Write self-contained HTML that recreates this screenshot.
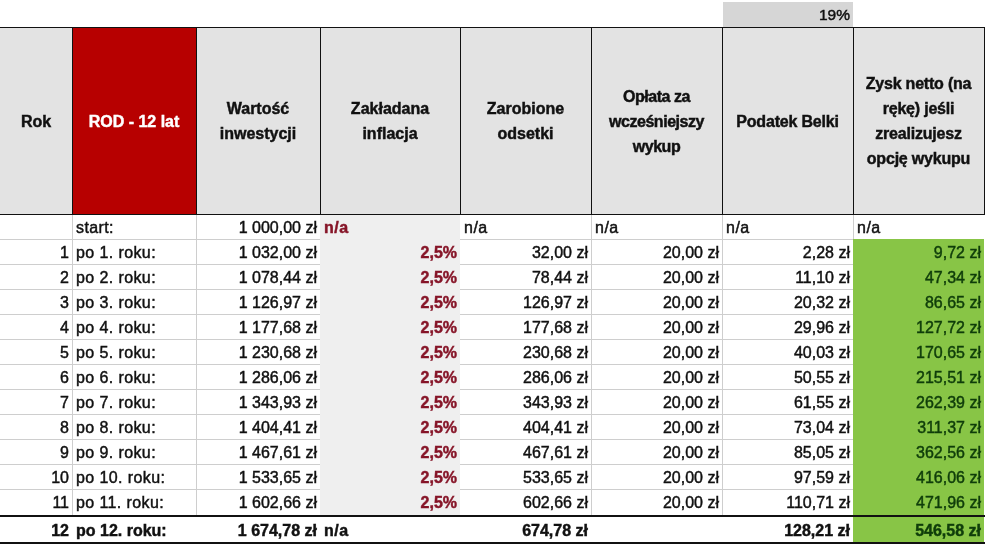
<!DOCTYPE html><html><head><meta charset="utf-8"><title>ROD</title><style>

html,body{margin:0;padding:0;background:#fff;}
body{width:989px;height:551px;position:relative;overflow:hidden;font-family:"Liberation Sans",sans-serif;color:#111;}
.a{position:absolute;box-sizing:border-box;}
.hd{white-space:nowrap;background:#e3e3e3;display:flex;align-items:center;justify-content:center;text-align:center;font-weight:bold;font-size:16px;line-height:25px;color:#111;-webkit-text-stroke:0.45px currentColor;}
.c{white-space:nowrap;font-size:16px;line-height:25px;height:25px;-webkit-text-stroke:0.45px currentColor;}
.r{text-align:right;}
.l{text-align:left;}
.b{font-weight:bold;}
.red{color:#861528;font-weight:bold;}
.gl{background:#cecece;}
.bl{background:#111;}

</style></head><body>
<div class="a" style="left:722.5px;top:2px;width:130.2px;height:25px;background:#d6d6d6;"></div>
<div class="a c r" style="left:722px;top:3px;width:128px;font-size:15.5px;line-height:24px;">19%</div>
<div class="a" style="left:0;top:27px;width:985px;height:188px;background:#e3e3e3;"></div>
<div class="a" style="left:72px;top:27px;width:125px;height:188px;background:#b70000;"></div>
<div class="a hd" style="left:0px;top:28px;width:72px;height:186px;background:transparent;"><span>Rok</span></div>
<div class="a hd" style="left:72px;top:28px;width:124px;height:186px;background:transparent;color:#fff;"><span>ROD - 12 lat</span></div>
<div class="a hd" style="left:196px;top:28px;width:124px;height:186px;background:transparent;"><span>Wartość<br>inwestycji</span></div>
<div class="a hd" style="left:320px;top:28px;width:140px;height:186px;background:transparent;"><span>Zakładana<br>inflacja</span></div>
<div class="a hd" style="left:460px;top:28px;width:131px;height:186px;background:transparent;"><span>Zarobione<br>odsetki</span></div>
<div class="a hd" style="left:591px;top:28px;width:131px;height:186px;background:transparent;letter-spacing:-0.45px;"><span>Opłata za<br>wcześniejszy<br>wykup</span></div>
<div class="a hd" style="left:722px;top:28px;width:131px;height:186px;background:transparent;letter-spacing:-0.2px;"><span>Podatek Belki</span></div>
<div class="a hd" style="left:853px;top:28px;width:131px;height:186px;background:transparent;letter-spacing:-0.2px;"><span>Zysk netto (na<br>rękę) jeśli<br>zrealizujesz<br>opcję wykupu</span></div>
<div class="a" style="left:320px;top:215px;width:140px;height:300px;background:#efefef;"></div>
<div class="a" style="left:853.4px;top:239px;width:130.6px;height:304px;background:#88c546;"></div>
<div class="a gl" style="left:0;top:239px;width:320px;height:1px;"></div>
<div class="a gl" style="left:460px;top:239px;width:393px;height:1px;"></div>
<div class="a gl" style="left:0;top:264px;width:320px;height:1px;"></div>
<div class="a gl" style="left:460px;top:264px;width:393px;height:1px;"></div>
<div class="a gl" style="left:0;top:289px;width:320px;height:1px;"></div>
<div class="a gl" style="left:460px;top:289px;width:393px;height:1px;"></div>
<div class="a gl" style="left:0;top:314px;width:320px;height:1px;"></div>
<div class="a gl" style="left:460px;top:314px;width:393px;height:1px;"></div>
<div class="a gl" style="left:0;top:339px;width:320px;height:1px;"></div>
<div class="a gl" style="left:460px;top:339px;width:393px;height:1px;"></div>
<div class="a gl" style="left:0;top:364px;width:320px;height:1px;"></div>
<div class="a gl" style="left:460px;top:364px;width:393px;height:1px;"></div>
<div class="a gl" style="left:0;top:389px;width:320px;height:1px;"></div>
<div class="a gl" style="left:460px;top:389px;width:393px;height:1px;"></div>
<div class="a gl" style="left:0;top:414px;width:320px;height:1px;"></div>
<div class="a gl" style="left:460px;top:414px;width:393px;height:1px;"></div>
<div class="a gl" style="left:0;top:439px;width:320px;height:1px;"></div>
<div class="a gl" style="left:460px;top:439px;width:393px;height:1px;"></div>
<div class="a gl" style="left:0;top:464px;width:320px;height:1px;"></div>
<div class="a gl" style="left:460px;top:464px;width:393px;height:1px;"></div>
<div class="a gl" style="left:0;top:489px;width:320px;height:1px;"></div>
<div class="a gl" style="left:460px;top:489px;width:393px;height:1px;"></div>
<div class="a gl" style="left:72px;top:215px;width:1px;height:300px;"></div>
<div class="a gl" style="left:196px;top:215px;width:1px;height:300px;"></div>
<div class="a gl" style="left:591px;top:215px;width:1px;height:300px;"></div>
<div class="a gl" style="left:722px;top:215px;width:1px;height:300px;"></div>
<div class="a gl" style="left:853px;top:215px;width:1px;height:24px;"></div>
<div class="a bl" style="left:0;top:27px;width:985px;height:1px;"></div>
<div class="a bl" style="left:0;top:214px;width:985px;height:1px;"></div>
<div class="a bl" style="left:72px;top:27px;width:1px;height:188px;"></div>
<div class="a bl" style="left:196px;top:27px;width:1px;height:188px;"></div>
<div class="a bl" style="left:320px;top:27px;width:1px;height:188px;"></div>
<div class="a bl" style="left:460px;top:27px;width:1px;height:188px;"></div>
<div class="a bl" style="left:591px;top:27px;width:1px;height:188px;"></div>
<div class="a bl" style="left:722px;top:27px;width:1px;height:188px;"></div>
<div class="a bl" style="left:853px;top:27px;width:1px;height:188px;"></div>
<div class="a bl" style="left:984px;top:27px;width:1px;height:188px;"></div>
<div class="a bl" style="left:0;top:515px;width:985px;height:2px;"></div>
<div class="a bl" style="left:0;top:542px;width:985px;height:2px;"></div>
<div class="a c l" style="left:76px;top:215px;width:120px;letter-spacing:0.4px;">start:</div>
<div class="a c r" style="left:196px;top:215px;width:121px;">1 000,00 zł</div>
<div class="a c l red" style="left:324px;top:215px;width:136px;letter-spacing:0.5px;">n/a</div>
<div class="a c l" style="left:464px;top:215px;width:127px;letter-spacing:0.5px;">n/a</div>
<div class="a c l" style="left:595px;top:215px;width:127px;letter-spacing:0.5px;">n/a</div>
<div class="a c l" style="left:726px;top:215px;width:127px;letter-spacing:0.5px;">n/a</div>
<div class="a c l" style="left:857px;top:215px;width:127px;letter-spacing:0.5px;">n/a</div>
<div class="a c r" style="left:0px;top:240px;width:69px;">1</div>
<div class="a c l" style="left:76px;top:240px;width:120px;letter-spacing:0.4px;">po 1. roku:</div>
<div class="a c r" style="left:196px;top:240px;width:121px;">1 032,00 zł</div>
<div class="a c r red" style="left:320px;top:240px;width:137px;">2,5%</div>
<div class="a c r" style="left:460px;top:240px;width:128px;">32,00 zł</div>
<div class="a c r" style="left:591px;top:240px;width:128px;">20,00 zł</div>
<div class="a c r" style="left:722px;top:240px;width:128px;">2,28 zł</div>
<div class="a c r" style="left:853px;top:240px;width:128px;color:#0f3d0a;">9,72 zł</div>
<div class="a c r" style="left:0px;top:265px;width:69px;">2</div>
<div class="a c l" style="left:76px;top:265px;width:120px;letter-spacing:0.4px;">po 2. roku:</div>
<div class="a c r" style="left:196px;top:265px;width:121px;">1 078,44 zł</div>
<div class="a c r red" style="left:320px;top:265px;width:137px;">2,5%</div>
<div class="a c r" style="left:460px;top:265px;width:128px;">78,44 zł</div>
<div class="a c r" style="left:591px;top:265px;width:128px;">20,00 zł</div>
<div class="a c r" style="left:722px;top:265px;width:128px;">11,10 zł</div>
<div class="a c r" style="left:853px;top:265px;width:128px;color:#0f3d0a;">47,34 zł</div>
<div class="a c r" style="left:0px;top:290px;width:69px;">3</div>
<div class="a c l" style="left:76px;top:290px;width:120px;letter-spacing:0.4px;">po 3. roku:</div>
<div class="a c r" style="left:196px;top:290px;width:121px;">1 126,97 zł</div>
<div class="a c r red" style="left:320px;top:290px;width:137px;">2,5%</div>
<div class="a c r" style="left:460px;top:290px;width:128px;">126,97 zł</div>
<div class="a c r" style="left:591px;top:290px;width:128px;">20,00 zł</div>
<div class="a c r" style="left:722px;top:290px;width:128px;">20,32 zł</div>
<div class="a c r" style="left:853px;top:290px;width:128px;color:#0f3d0a;">86,65 zł</div>
<div class="a c r" style="left:0px;top:315px;width:69px;">4</div>
<div class="a c l" style="left:76px;top:315px;width:120px;letter-spacing:0.4px;">po 4. roku:</div>
<div class="a c r" style="left:196px;top:315px;width:121px;">1 177,68 zł</div>
<div class="a c r red" style="left:320px;top:315px;width:137px;">2,5%</div>
<div class="a c r" style="left:460px;top:315px;width:128px;">177,68 zł</div>
<div class="a c r" style="left:591px;top:315px;width:128px;">20,00 zł</div>
<div class="a c r" style="left:722px;top:315px;width:128px;">29,96 zł</div>
<div class="a c r" style="left:853px;top:315px;width:128px;color:#0f3d0a;">127,72 zł</div>
<div class="a c r" style="left:0px;top:340px;width:69px;">5</div>
<div class="a c l" style="left:76px;top:340px;width:120px;letter-spacing:0.4px;">po 5. roku:</div>
<div class="a c r" style="left:196px;top:340px;width:121px;">1 230,68 zł</div>
<div class="a c r red" style="left:320px;top:340px;width:137px;">2,5%</div>
<div class="a c r" style="left:460px;top:340px;width:128px;">230,68 zł</div>
<div class="a c r" style="left:591px;top:340px;width:128px;">20,00 zł</div>
<div class="a c r" style="left:722px;top:340px;width:128px;">40,03 zł</div>
<div class="a c r" style="left:853px;top:340px;width:128px;color:#0f3d0a;">170,65 zł</div>
<div class="a c r" style="left:0px;top:365px;width:69px;">6</div>
<div class="a c l" style="left:76px;top:365px;width:120px;letter-spacing:0.4px;">po 6. roku:</div>
<div class="a c r" style="left:196px;top:365px;width:121px;">1 286,06 zł</div>
<div class="a c r red" style="left:320px;top:365px;width:137px;">2,5%</div>
<div class="a c r" style="left:460px;top:365px;width:128px;">286,06 zł</div>
<div class="a c r" style="left:591px;top:365px;width:128px;">20,00 zł</div>
<div class="a c r" style="left:722px;top:365px;width:128px;">50,55 zł</div>
<div class="a c r" style="left:853px;top:365px;width:128px;color:#0f3d0a;">215,51 zł</div>
<div class="a c r" style="left:0px;top:390px;width:69px;">7</div>
<div class="a c l" style="left:76px;top:390px;width:120px;letter-spacing:0.4px;">po 7. roku:</div>
<div class="a c r" style="left:196px;top:390px;width:121px;">1 343,93 zł</div>
<div class="a c r red" style="left:320px;top:390px;width:137px;">2,5%</div>
<div class="a c r" style="left:460px;top:390px;width:128px;">343,93 zł</div>
<div class="a c r" style="left:591px;top:390px;width:128px;">20,00 zł</div>
<div class="a c r" style="left:722px;top:390px;width:128px;">61,55 zł</div>
<div class="a c r" style="left:853px;top:390px;width:128px;color:#0f3d0a;">262,39 zł</div>
<div class="a c r" style="left:0px;top:415px;width:69px;">8</div>
<div class="a c l" style="left:76px;top:415px;width:120px;letter-spacing:0.4px;">po 8. roku:</div>
<div class="a c r" style="left:196px;top:415px;width:121px;">1 404,41 zł</div>
<div class="a c r red" style="left:320px;top:415px;width:137px;">2,5%</div>
<div class="a c r" style="left:460px;top:415px;width:128px;">404,41 zł</div>
<div class="a c r" style="left:591px;top:415px;width:128px;">20,00 zł</div>
<div class="a c r" style="left:722px;top:415px;width:128px;">73,04 zł</div>
<div class="a c r" style="left:853px;top:415px;width:128px;color:#0f3d0a;">311,37 zł</div>
<div class="a c r" style="left:0px;top:440px;width:69px;">9</div>
<div class="a c l" style="left:76px;top:440px;width:120px;letter-spacing:0.4px;">po 9. roku:</div>
<div class="a c r" style="left:196px;top:440px;width:121px;">1 467,61 zł</div>
<div class="a c r red" style="left:320px;top:440px;width:137px;">2,5%</div>
<div class="a c r" style="left:460px;top:440px;width:128px;">467,61 zł</div>
<div class="a c r" style="left:591px;top:440px;width:128px;">20,00 zł</div>
<div class="a c r" style="left:722px;top:440px;width:128px;">85,05 zł</div>
<div class="a c r" style="left:853px;top:440px;width:128px;color:#0f3d0a;">362,56 zł</div>
<div class="a c r" style="left:0px;top:465px;width:69px;">10</div>
<div class="a c l" style="left:76px;top:465px;width:120px;letter-spacing:0.4px;">po 10. roku:</div>
<div class="a c r" style="left:196px;top:465px;width:121px;">1 533,65 zł</div>
<div class="a c r red" style="left:320px;top:465px;width:137px;">2,5%</div>
<div class="a c r" style="left:460px;top:465px;width:128px;">533,65 zł</div>
<div class="a c r" style="left:591px;top:465px;width:128px;">20,00 zł</div>
<div class="a c r" style="left:722px;top:465px;width:128px;">97,59 zł</div>
<div class="a c r" style="left:853px;top:465px;width:128px;color:#0f3d0a;">416,06 zł</div>
<div class="a c r" style="left:0px;top:490px;width:69px;">11</div>
<div class="a c l" style="left:76px;top:490px;width:120px;letter-spacing:0.4px;">po 11. roku:</div>
<div class="a c r" style="left:196px;top:490px;width:121px;">1 602,66 zł</div>
<div class="a c r red" style="left:320px;top:490px;width:137px;">2,5%</div>
<div class="a c r" style="left:460px;top:490px;width:128px;">602,66 zł</div>
<div class="a c r" style="left:591px;top:490px;width:128px;">20,00 zł</div>
<div class="a c r" style="left:722px;top:490px;width:128px;">110,71 zł</div>
<div class="a c r" style="left:853px;top:490px;width:128px;color:#0f3d0a;">471,96 zł</div>
<div class="a c r b" style="left:0px;top:518px;width:69px;">12</div>
<div class="a c l b" style="left:76px;top:518px;width:120px;">po 12. roku:</div>
<div class="a c r b" style="left:196px;top:518px;width:121px;">1 674,78 zł</div>
<div class="a c l b" style="left:324px;top:518px;width:136px;letter-spacing:0.5px;">n/a</div>
<div class="a c r b" style="left:460px;top:518px;width:128px;">674,78 zł</div>
<div class="a c r b" style="left:722px;top:518px;width:128px;">128,21 zł</div>
<div class="a c r b" style="left:853px;top:518px;width:128px;color:#0f3d0a;">546,58 zł</div>
</body></html>
